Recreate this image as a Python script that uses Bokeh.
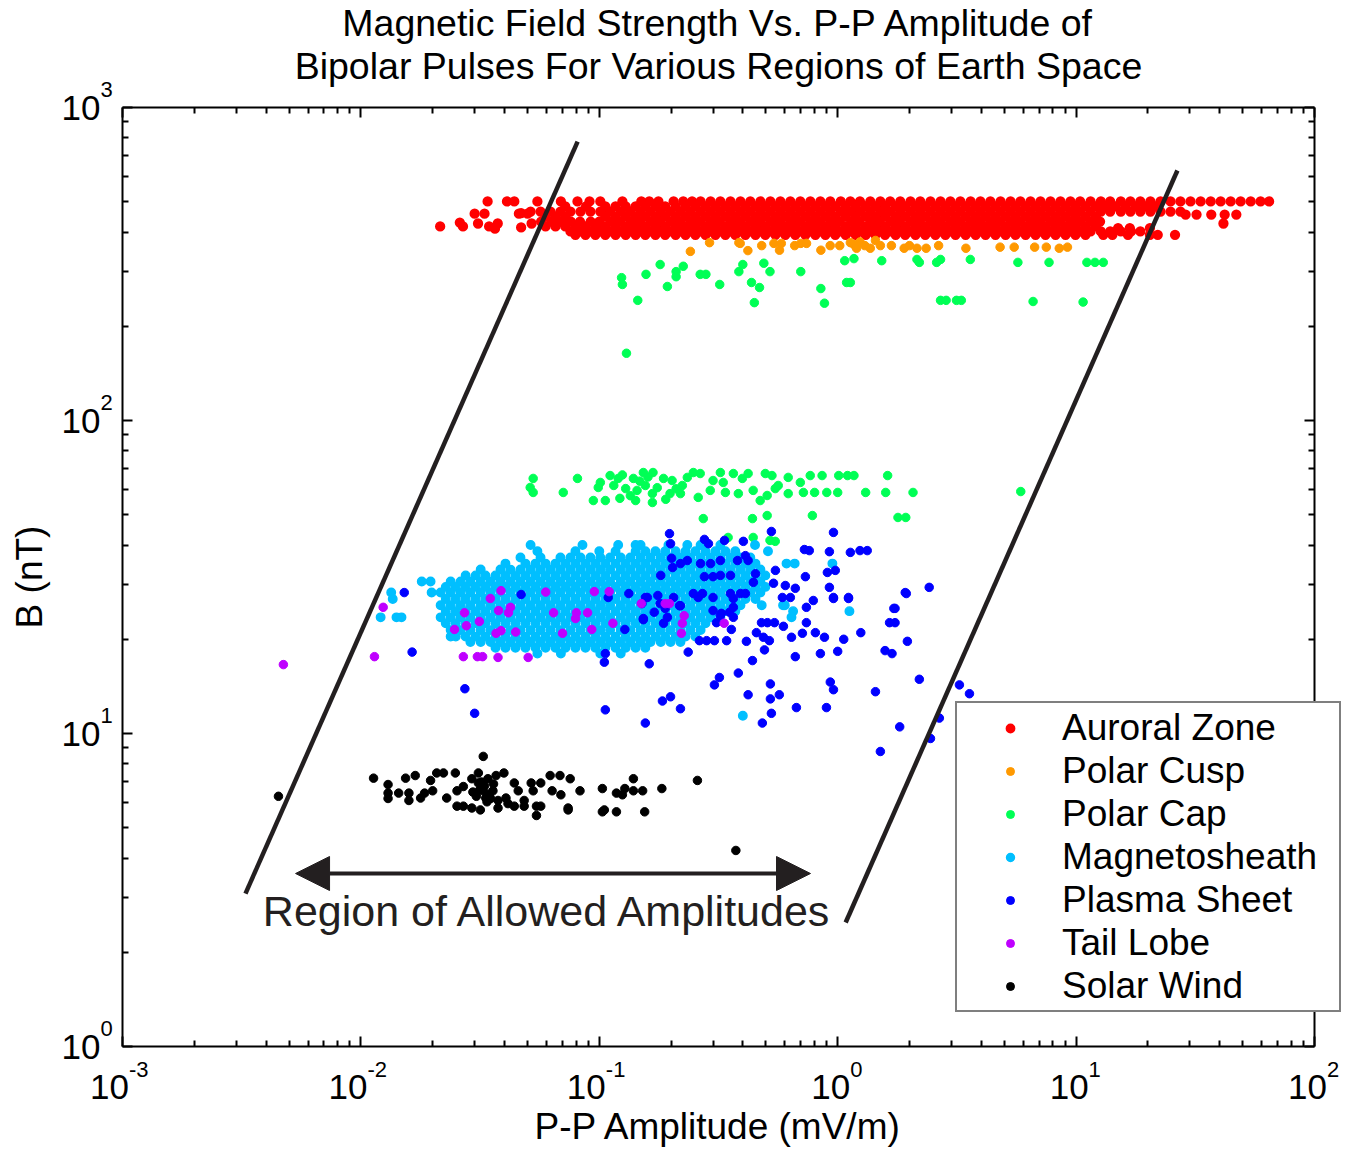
import math
from bokeh.plotting import figure
from bokeh.models import (Legend, LegendItem, Label, Arrow, NormalHead,
                          FixedTicker, LogAxis, CustomJSTickFormatter)
from bokeh.embed import file_html
from bokeh.resources import INLINE

FONT = "Liberation Sans"
INK = "#231f20"

TITLE_LINES = ["Magnetic Field Strength Vs. P-P Amplitude of",
               "Bipolar Pulses For Various Regions of Earth Space"]
X_LABEL = "P-P Amplitude (mV/m)"
Y_LABEL = "B (nT)"
X_EXPONENTS = [-3, -2, -1, 0, 1, 2]
Y_EXPONENTS = [0, 1, 2, 3]
REGION_TEXT = "Region of Allowed Amplitudes"

SERIES_NAMES = ["Auroral Zone", "Polar Cusp", "Polar Cap", "Magnetosheath",
                "Plasma Sheet", "Tail Lobe", "Solar Wind"]
SERIES_COLORS = ["#ff0000", "#ff9900", "#00ff55", "#00bfff",
                 "#0000ff", "#bf00ff", "#000000"]
# outline width of the dots; the saturated clusters are drawn with a slightly wider edge
SERIES_EDGE = [1.8, 1.0, 1.0, 1.4, 1.0, 1.0, 1.0]

# ---------------- Auroral Zone (dense band, read row by row) ----------------
az_row_b = [501, 483, 465, 448, 432, 417, 402, 392]
az_row_x = [
    [0.034, 0.041, 0.044, 0.055, 0.069, 0.081, 0.091, 0.101, 0.125, 0.150, 0.162, 0.177, 0.205, 0.225, 0.245,
     0.266, 0.293, 0.322, 0.355, 0.391, 0.43, 0.474, 0.522, 0.575, 0.633, 0.697, 0.768, 0.846, 0.931, 1.03,
     1.13, 1.24, 1.37, 1.51, 1.66, 1.83, 2.02, 2.22, 2.45, 2.7, 2.97, 3.27, 3.61, 3.97, 4.37, 4.82, 5.31,
     5.84, 6.44, 7.09, 7.81, 8.6, 9.47, 10.4, 11.5, 12.7, 13.9, 15.4, 16.9, 18.6, 20.5, 22.6, 24.9, 27.4,
     30.2, 33.3, 36.7, 40.4, 44.5, 49.0, 54.0, 59.4, 64.5],
    [0.072, 0.088, 0.106, 0.117, 0.129, 0.142, 0.156, 0.172, 0.189, 0.209, 0.23, 0.253, 0.279, 0.307, 0.338,
     0.372, 0.41, 0.452, 0.497, 0.548, 0.603, 0.664, 0.732, 0.806, 0.888, 0.977, 1.08, 1.19, 1.31, 1.44,
     1.58, 1.75, 1.92, 2.12, 2.33, 2.57, 2.83, 3.12, 3.44, 3.79, 4.17, 4.59, 5.06, 5.57, 6.14, 6.76, 7.44,
     8.2, 9.03, 9.94, 10.95, 12.1, 13.3, 14.6, 16.1, 17.8, 19.6, 21.5],
    [0.0515, 0.0567, 0.0624, 0.0687, 0.0757, 0.0834, 0.0918, 0.101, 0.111, 0.123, 0.135, 0.149, 0.164, 0.181,
     0.199, 0.219, 0.241, 0.266, 0.293, 0.322, 0.355, 0.391, 0.43, 0.474, 0.522, 0.575, 0.633, 0.697, 0.768,
     0.846, 0.931, 1.03, 1.13, 1.24, 1.37, 1.51, 1.66, 1.83, 2.02, 2.22, 2.45, 2.7, 2.97, 3.27, 3.61, 3.97,
     4.37, 4.82, 5.31, 5.84, 6.44, 7.09, 7.81, 8.6, 9.47, 10.4, 11.5, 12.7, 13.9, 15.4, 16.9, 18.6, 20.5,
     22.6, 24.9, 27.4],
    [0.0595, 0.0655, 0.0721, 0.106, 0.117, 0.129, 0.142, 0.156, 0.172, 0.189, 0.209, 0.23, 0.253, 0.279,
     0.307, 0.338, 0.372, 0.41, 0.452, 0.497, 0.548, 0.603, 0.664, 0.732, 0.806, 0.888, 0.977, 1.08, 1.19,
     1.31, 1.44, 1.58, 1.75, 1.92, 2.12, 2.33, 2.57, 2.83, 3.12, 3.44, 3.79, 4.17, 4.59, 5.06, 5.57, 6.14,
     6.76, 7.44, 8.2, 9.03, 9.94, 10.95, 12.1],
    [0.057, 0.063, 0.069, 0.076, 0.083, 0.092, 0.10, 0.112, 0.122, 0.136, 0.148, 0.165, 0.18, 0.2, 0.218,
     0.242, 0.265, 0.294, 0.32, 0.356, 0.39, 0.432, 0.472, 0.524, 0.573, 0.635, 0.695, 0.77, 0.844, 0.935,
     1.02, 1.14, 1.23, 1.38, 1.5, 1.67, 1.82, 2.03, 2.21, 2.46, 2.69, 2.98, 3.26, 3.62, 3.96, 4.38, 4.8,
     5.33, 5.82, 6.46, 7.07, 7.83, 8.58, 9.5, 10.4, 11.5, 12.6],
    [0.0595, 0.0655, 0.072, 0.0795, 0.0875, 0.0965, 0.106, 0.117, 0.129, 0.142, 0.156, 0.172, 0.189, 0.209,
     0.23, 0.253, 0.279, 0.307, 0.338, 0.372, 0.41, 0.452, 0.497, 0.548, 0.603, 0.664, 0.732, 0.806, 0.888,
     0.977, 1.08, 1.19, 1.31, 1.44, 1.58, 1.75, 1.92, 2.12, 2.33, 2.57, 2.83, 3.12, 3.44, 3.79, 4.17, 4.59,
     5.06, 5.57, 6.14, 6.76, 7.44, 8.2, 9.03, 9.94, 10.95, 12.1],
    [0.0757, 0.0834, 0.0918, 0.101, 0.111, 0.123, 0.135, 0.149, 0.164, 0.181, 0.199, 0.219, 0.241, 0.266,
     0.293, 0.322, 0.355, 0.391, 0.43, 0.474, 0.522, 0.575, 0.633, 0.697, 0.768, 0.846, 0.931, 1.03, 1.13,
     1.24, 1.37, 1.51, 1.66, 1.83, 2.02, 2.22, 2.45, 2.7, 2.97, 3.27, 3.61, 3.97, 4.37, 4.82, 5.31, 5.84,
     6.44, 7.09, 7.81, 8.6, 9.47, 10.4, 11.5, 12.7, 13.9, 15.4, 17.0, 18.6],
    [0.0794, 0.0875, 0.0963, 0.106, 0.117, 0.129, 0.142, 0.156, 0.172, 0.189, 0.209, 0.23, 0.253, 0.279,
     0.307, 0.338, 0.372, 0.41, 0.452, 0.497, 0.548, 0.603, 0.664, 0.732, 0.806, 0.888, 0.977, 1.08, 1.19,
     1.31, 1.44, 1.58, 1.75, 1.92, 2.12, 2.33, 2.57, 2.83, 3.12, 3.44, 3.79, 4.17, 4.59, 5.06, 5.57, 6.14,
     6.76, 7.44, 8.2, 9.03, 9.94, 10.95, 13.0, 14.2, 16.5, 20.4, 22.0, 26.0],
]
az_tail_x = [0.0215, 0.026, 0.0268, 0.030, 0.031, 0.033, 0.0345, 0.0365, 0.0375, 0.046, 0.047, 0.047,
             0.050, 0.052, 28.8, 32.0, 36.9, 42.0, 47.0, 41.5, 15.0, 16.8, 20.4]
az_tail_b = [417, 429, 417, 458, 426, 458, 417, 410, 426, 458, 414, 460,
             458, 426, 455, 455, 455, 455, 455, 426, 412, 412, 412]

# ---------------- Polar Cusp ----------------
pcusp_x = [0.241, 0.29, 0.385, 0.39, 0.42, 0.48, 0.54, 0.57, 0.58, 0.66, 0.70, 0.74, 0.85, 0.93, 1.02,
           1.13, 1.17, 1.2, 1.24, 1.3, 1.37, 1.44, 1.51, 1.68, 1.9, 2.0, 2.15, 2.35, 2.65, 3.45, 4.8,
           5.5, 6.7, 7.5, 8.5, 9.2]
pcusp_b = [347, 370, 370, 368, 349, 362, 368, 350, 368, 362, 368, 368, 350, 362, 362,
           370, 365, 355, 372, 362, 355, 376, 362, 362, 355, 362, 355, 355, 362, 355, 358,
           358, 358, 358, 355, 358]

# ---------------- Polar Cap ----------------
pcap_x = [0.124, 0.125, 0.145, 0.157, 0.18, 0.193, 0.21, 0.21, 0.225, 0.265, 0.28, 0.32, 0.385, 0.40,
          0.435, 0.447, 0.47, 0.49, 0.52, 0.70, 0.85, 0.88, 1.07, 1.09, 1.13, 1.17, 1.53, 2.15, 2.2, 2.6,
          2.7, 3.6, 5.7, 7.7, 11.1, 12.0, 13.0, 2.7, 2.85, 3.15, 3.3, 6.6, 10.7, 0.13,
          0.0528, 0.0513, 0.0528, 0.081, 0.0706, 0.0944, 0.099, 0.101, 0.106, 0.111, 0.120, 0.122, 0.129,
          0.139, 0.142, 0.144, 0.153, 0.156, 0.167, 0.168, 0.167, 0.186, 0.198, 0.202, 0.219, 0.223, 0.234,
          0.248, 0.26, 0.265, 0.292, 0.30, 0.322, 0.331, 0.338, 0.365, 0.383, 0.398, 0.421, 0.442, 0.473,
          0.497, 0.506, 0.53, 0.547, 0.563, 0.62, 0.62, 0.697, 0.718, 0.767, 0.80, 0.86, 0.90, 1.0, 1.01,
          1.10, 1.17, 1.31, 1.59, 1.62, 2.07, 0.273, 0.439, 0.506, 0.783, 1.79, 1.93, 0.347, 0.442, 0.52,
          0.547, 5.86, 0.115, 0.135, 0.148, 0.175, 0.19, 0.16, 0.21, 0.125]
pcap_b = [286, 272, 242, 293, 315, 268, 299, 288, 311, 293, 293, 272, 299, 315,
          276, 238, 266, 318, 299, 299, 264, 237, 324, 276, 276, 329, 324, 327, 320, 320,
          327, 327, 320, 320, 320, 320, 320, 242, 242, 242, 242, 240, 239, 164,
          65.3, 61.1, 58.9, 65.3, 58.9, 55.5, 61.1, 63.4, 55.5, 66.7, 65.3, 56.4, 60.6,
          65.3, 55.5, 59.8, 68.2, 62.0, 58.4, 68.2, 54.7, 65.3, 58.4, 64.3, 58.4, 62.0, 65.8,
          68.2, 56.8, 67.7, 59.8, 64.3, 68.2, 63.4, 58.9, 67.7, 58.4, 65.3, 67.7, 59.8, 55.5,
          67.7, 57.6, 66.7, 60.6, 62.0, 65.8, 58.4, 63.4, 58.9, 66.7, 58.9, 66.7, 58.9, 58.9, 66.7,
          66.7, 66.7, 58.9, 58.9, 66.7, 58.9, 48.6, 48.6, 49.7, 49.7, 49.0, 49.0, 42.3, 42.3, 41.4,
          41.1, 59.3, 62.0, 57.5, 64.0, 61.0, 56.0, 66.0, 60.5, 67.0]

# ---------------- Magnetosheath (dense cluster, read row by row) ----------------
msh_row_b = [40.0, 38.2, 36.5, 34.9, 33.4, 32.0, 30.6, 29.4, 28.2, 26.9, 25.7, 24.6, 23.5, 22.5, 21.4,
             20.4, 19.6, 18.8, 18.0, 11.4]
msh_row_x = [
    [0.0515, 0.085, 0.12, 0.142, 0.149, 0.195, 0.234, 0.266, 0.322, 0.45],
    [0.055, 0.0794, 0.1, 0.117, 0.142, 0.156, 0.172, 0.189, 0.209, 0.23, 0.253, 0.279, 0.307, 0.338, 0.372,
     0.51],
    [0.0467, 0.0567, 0.0687, 0.0757, 0.0834, 0.0918, 0.101, 0.111, 0.123, 0.135, 0.149, 0.164, 0.181, 0.199,
     0.219, 0.241, 0.266, 0.293, 0.322, 0.355, 0.391, 0.43],
    [0.0404, 0.049, 0.054, 0.0595, 0.0655, 0.0721, 0.0794, 0.0875, 0.0963, 0.106, 0.117, 0.129, 0.142, 0.156,
     0.172, 0.189, 0.209, 0.23, 0.253, 0.279, 0.307, 0.338, 0.372, 0.41, 0.452, 0.61, 0.66, 0.95],
    [0.0318, 0.0385, 0.0424, 0.0467, 0.0515, 0.0567, 0.0624, 0.0687, 0.0757, 0.0834, 0.0918, 0.101, 0.111,
     0.123, 0.135, 0.149, 0.164, 0.181, 0.199, 0.219, 0.241, 0.266, 0.293, 0.322, 0.355, 0.391, 0.43, 0.474],
    [0.0275, 0.0303, 0.0333, 0.0367, 0.0404, 0.0445, 0.049, 0.054, 0.0595, 0.0655, 0.0721, 0.0794, 0.0875,
     0.0963, 0.106, 0.117, 0.129, 0.142, 0.156, 0.172, 0.189, 0.209, 0.23, 0.253, 0.279, 0.307, 0.338, 0.372,
     0.41, 0.452, 0.497],
    [0.018, 0.0196, 0.0238, 0.0262, 0.0288, 0.0318, 0.035, 0.0385, 0.0424, 0.0467, 0.0515, 0.0567, 0.0624,
     0.0687, 0.0757, 0.0834, 0.0918, 0.101, 0.111, 0.123, 0.135, 0.149, 0.164, 0.181, 0.199, 0.219, 0.241,
     0.266, 0.293, 0.322, 0.355, 0.391, 0.43, 0.474],
    [0.0227, 0.025, 0.0275, 0.0303, 0.0333, 0.0367, 0.0404, 0.0445, 0.049, 0.054, 0.0595, 0.0655, 0.0721,
     0.0794, 0.0875, 0.0963, 0.106, 0.117, 0.129, 0.142, 0.156, 0.172, 0.189, 0.209, 0.23, 0.253, 0.279,
     0.307, 0.338, 0.372, 0.41, 0.452, 0.497],
    [0.0134, 0.0198, 0.0216, 0.0238, 0.0262, 0.0288, 0.0318, 0.035, 0.0385, 0.0424, 0.0467, 0.0515, 0.0567,
     0.0624, 0.0687, 0.0757, 0.0834, 0.0918, 0.101, 0.111, 0.123, 0.135, 0.149, 0.164, 0.181, 0.199, 0.219,
     0.241, 0.266, 0.293, 0.322, 0.355, 0.391, 0.43, 0.474],
    [0.0136, 0.0227, 0.025, 0.0275, 0.0303, 0.0333, 0.0367, 0.0404, 0.0445, 0.049, 0.054, 0.0595, 0.0655,
     0.0721, 0.0794, 0.0875, 0.0963, 0.106, 0.117, 0.129, 0.142, 0.156, 0.172, 0.189, 0.209, 0.23, 0.253,
     0.279, 0.307, 0.338, 0.372, 0.41, 0.452],
    [0.0216, 0.0238, 0.0262, 0.0288, 0.0318, 0.035, 0.0385, 0.0424, 0.0467, 0.0515, 0.0567, 0.0624, 0.0687,
     0.0757, 0.0834, 0.0918, 0.101, 0.111, 0.123, 0.135, 0.149, 0.164, 0.181, 0.199, 0.219, 0.241, 0.266,
     0.293, 0.322, 0.355, 0.391, 0.48, 0.59, 0.60],
    [0.0227, 0.025, 0.0275, 0.0303, 0.0333, 0.0367, 0.0404, 0.0445, 0.049, 0.054, 0.0595, 0.0655, 0.0721,
     0.0794, 0.0875, 0.0963, 0.106, 0.117, 0.129, 0.142, 0.156, 0.172, 0.189, 0.209, 0.23, 0.253, 0.279,
     0.307, 0.338, 0.372, 0.65, 1.12],
    [0.0121, 0.0141, 0.0148, 0.0216, 0.0238, 0.0262, 0.0288, 0.0318, 0.035, 0.0385, 0.0424, 0.0467, 0.0515,
     0.0567, 0.0624, 0.0687, 0.0757, 0.0834, 0.0918, 0.101, 0.111, 0.123, 0.135, 0.149, 0.164, 0.181, 0.199,
     0.219, 0.241, 0.266, 0.293, 0.322, 0.64],
    [0.0227, 0.025, 0.0275, 0.0303, 0.0333, 0.0367, 0.0404, 0.0445, 0.049, 0.054, 0.0595, 0.0655, 0.0721,
     0.0794, 0.0875, 0.0963, 0.106, 0.117, 0.129, 0.142, 0.156, 0.172, 0.189, 0.209, 0.23, 0.253, 0.279],
    [0.0238, 0.0262, 0.0288, 0.0318, 0.035, 0.0385, 0.0424, 0.0467, 0.0515, 0.0567, 0.0624, 0.0687, 0.0757,
     0.0834, 0.0918, 0.101, 0.111, 0.123, 0.135, 0.149, 0.164, 0.181, 0.199, 0.219, 0.241, 0.266],
    [0.0238, 0.025, 0.0275, 0.0303, 0.0333, 0.0367, 0.0404, 0.0445, 0.049, 0.054, 0.0595, 0.0655, 0.0721,
     0.0794, 0.0875, 0.0963, 0.106, 0.117, 0.129, 0.142, 0.156, 0.172, 0.189, 0.209, 0.23, 0.253],
    [0.0288, 0.0318, 0.035, 0.0385, 0.0424, 0.0467, 0.0515, 0.0567, 0.0624, 0.0687, 0.0757, 0.0834, 0.0918,
     0.101, 0.111, 0.123, 0.135, 0.149, 0.164, 0.181, 0.199, 0.219],
    [0.0367, 0.0404, 0.0445, 0.049, 0.054, 0.0595, 0.0655, 0.0721, 0.0794, 0.0875, 0.0963, 0.106, 0.117,
     0.129, 0.142, 0.156],
    [0.055, 0.069, 0.101, 0.123],
    [0.40],
]

# ---------------- Plasma Sheet ----------------
psh_x = [0.197, 0.199, 0.276, 0.287, 0.335, 0.402, 0.527, 0.96, 0.725, 0.76, 0.923, 1.13, 1.24, 1.33,
         2.42, 1.92, 1.72, 0.905, 0.977, 0.732, 0.923, 0.96, 1.11, 0.79, 0.739, 0.586, 0.633, 0.664,
         0.603, 0.548, 0.538, 0.443, 0.452, 0.421, 0.41, 0.38, 0.391, 0.41, 0.355, 0.365, 0.365, 0.322,
         0.322, 0.293, 0.266, 0.276, 0.30, 0.355, 0.271, 0.30, 0.30, 0.322, 0.352, 0.365, 0.248, 0.26,
         0.234, 0.219, 0.201, 0.203, 0.181, 0.159, 0.176, 0.180, 0.205, 0.219, 0.193, 0.170, 0.153,
         0.151, 0.133, 0.109, 0.047, 0.0152, 0.0164, 0.0273, 0.0300, 0.106, 0.105, 0.106, 0.128, 0.156,
         0.162, 0.153, 0.156, 0.189, 0.186, 0.199, 0.184, 0.219, 0.217, 0.236, 0.263, 0.282, 0.304,
         0.304, 0.319, 0.31, 0.325, 0.342, 0.358, 0.383, 0.414, 0.421, 0.439, 0.456, 0.488, 0.517,
         0.493, 0.483, 0.527, 0.522, 0.522, 0.569, 0.479, 0.507, 0.543, 0.592, 0.64, 0.664, 0.671,
         0.711, 0.739, 0.806, 0.846, 0.88, 0.897, 0.931, 0.96, 1.0, 1.06, 1.25, 1.44, 1.58, 1.69, 1.65,
         1.74, 1.74, 1.96, 2.2, 1.82, 1.51, 2.45, 2.67, 3.24, 3.57, 1.94, 0.96, 1.11]
psh_b = [43.5, 40.4, 41.7, 40.4, 41.4, 41.1, 44.2, 43.9, 38.7, 38.4, 38.1, 37.9, 38.4, 38.4,
         29.3, 28.2, 25.1, 32.7, 33.2, 31.7, 29.3, 27.2, 27.2, 26.6, 25.3, 27.2, 27.2, 29.1,
         29.7, 33.2, 30.2, 30.4, 32.4, 35.7, 37.0, 35.7, 28.0, 28.0, 28.0, 27.0, 25.3, 32.0,
         35.7, 34.9, 34.9, 31.7, 31.7, 32.0, 28.0, 27.2, 24.7, 23.8, 24.4, 23.5, 28.0, 27.2,
         35.7, 34.9, 36.3, 33.9, 32.0, 27.2, 27.6, 26.0, 27.2, 25.6, 23.5, 24.4, 23.3,
         26.0, 28.0, 27.2, 27.8, 28.2, 18.2, 13.9, 11.6, 18.0, 16.9, 11.9, 21.5, 10.8,
         16.7, 23.1, 27.2, 25.1, 22.5, 13.1, 12.7, 12.0, 25.6, 18.2, 19.8, 19.8, 19.8,
         14.3, 15.1, 22.6, 24.2, 19.8, 21.5, 15.6, 19.7, 13.3, 17.1, 21.0, 20.3, 19.8,
         18.5, 10.8, 11.6, 12.9, 14.4, 13.3, 22.6, 22.6, 22.6, 22.0, 20.3, 17.6, 12.1,
         20.9, 22.6, 21.0, 18.0, 20.3, 12.1, 14.6, 13.8, 18.3, 20.0, 21.0, 13.6, 18.4, 18.0, 22.6,
         22.6, 25.1, 19.7, 14.9, 10.5, 8.76, 9.64, 11.2, 14.3, 13.4, 28.0, 27.0, 27.0]

# ---------------- Tail Lobe ----------------
tlobe_x = [0.00473, 0.0114, 0.0124, 0.0247, 0.0269, 0.0272, 0.0277, 0.0308, 0.0324, 0.0314, 0.0349,
           0.0376, 0.0369, 0.0387, 0.0378, 0.0387, 0.0416, 0.0424, 0.0446, 0.0503, 0.0596, 0.0643,
           0.0701, 0.0802, 0.0795, 0.0893, 0.093, 0.0953, 0.110, 0.114, 0.150, 0.189, 0.197, 0.227,
           0.223, 0.221, 0.334]
tlobe_b = [16.6, 17.6, 25.3, 21.5, 17.6, 24.3, 22.1, 17.6, 17.6, 22.8, 27.0,
           17.5, 20.9, 21.3, 24.7, 28.6, 24.3, 25.3, 21.1, 17.5, 28.3, 24.3,
           20.9, 24.3, 23.3, 24.3, 21.5, 28.4, 28.4, 22.5, 26.0, 26.0, 26.0, 23.8,
           22.5, 20.9, 22.5]

# ---------------- Solar Wind ----------------
swind_x = [0.00451, 0.0113, 0.013, 0.013, 0.013, 0.0144, 0.0154, 0.0159, 0.0159, 0.0169, 0.0178, 0.0185,
           0.0196, 0.020, 0.0208, 0.0222, 0.0229, 0.0249, 0.0253, 0.0253, 0.0269, 0.0269, 0.0292, 0.0292,
           0.0311, 0.0317, 0.0326, 0.0311, 0.0326, 0.0334, 0.0341, 0.0358, 0.0369, 0.0376, 0.0376, 0.0398,
           0.0406, 0.0414, 0.044, 0.044, 0.0457, 0.0484, 0.0484, 0.0518, 0.0528, 0.0545, 0.0545, 0.0568,
           0.0568, 0.0622, 0.0634, 0.0684, 0.069, 0.074, 0.074, 0.0755, 0.083, 0.103, 0.103, 0.105, 0.118,
           0.118, 0.125, 0.128, 0.139, 0.139, 0.152, 0.155, 0.183, 0.258, 0.374,
           0.0315, 0.033, 0.0345, 0.0305, 0.036, 0.035, 0.032, 0.0338, 0.0295]
swind_b = [6.3, 7.2, 6.87, 6.45, 6.2, 6.45, 7.2, 6.45, 6.11, 7.34, 6.22, 6.45,
           7.08, 6.56, 7.48, 7.48, 6.22, 7.48, 6.56, 5.86, 5.86, 6.77, 7.17, 5.78,
           7.48, 5.7, 8.45, 6.95, 6.56, 6.22, 7.17, 6.56, 7.34, 6.11, 5.78, 7.48,
           6.22, 5.97, 6.95, 5.86, 6.56, 6.11, 5.86, 6.95, 6.56, 5.86, 5.47, 5.86,
           6.95, 7.34, 6.56, 7.34, 6.37, 5.7, 5.78, 7.17, 6.56, 6.67, 5.62, 5.70, 6.45,
           5.62, 6.37, 6.67, 7.17, 6.56, 6.56, 5.62, 6.67, 7.08, 4.23,
           6.6, 6.8, 6.4, 6.3, 6.9, 6.2, 7.0, 6.05, 6.5]

# ---------------- guide lines / annotation ----------------
bound_left_x = [0.00328, 0.0811]
bound_left_b = [3.08, 778]
bound_right_x = [1.08, 26.6]
bound_right_b = [2.49, 629]
arrow_x = [0.00532, 0.769]
arrow_b = 3.57
region_x = 0.0612
region_b = 2.70


def expand(row_b, row_x):
    xs, ys = [], []
    for b, xl in zip(row_b, row_x):
        xs += xl
        ys += [b] * len(xl)
    return xs, ys


az_x, az_b = expand(az_row_b, az_row_x)
az_x += az_tail_x
az_b += az_tail_b
msh_x, msh_b = expand(msh_row_b, msh_row_x)

series_x = [az_x, pcusp_x, pcap_x, msh_x, psh_x, tlobe_x, swind_x]
series_b = [az_b, pcusp_b, pcap_b, msh_b, psh_b, tlobe_b, swind_b]

# ---------------- layout: frame = whole canvas, plot box drawn by fixed axes ----------------
W, H = 1354, 1149
BOX_L, BOX_R, BOX_T, BOX_B = 122, 1314, 107, 1046
X_LO, X_HI = 1e-3, 1e2
Y_LO, Y_HI = 1.0, 1e3
dec_x = (BOX_R - BOX_L) / math.log10(X_HI / X_LO)
dec_y = (BOX_B - BOX_T) / math.log10(Y_HI / Y_LO)
xr = (X_LO * 10 ** (-BOX_L / dec_x), X_HI * 10 ** ((W - BOX_R) / dec_x))
yr = (Y_LO * 10 ** (-(H - BOX_B) / dec_y), Y_HI * 10 ** (BOX_T / dec_y))

p = figure(width=W, height=H, x_axis_type="log", y_axis_type="log",
           x_range=xr, y_range=yr, x_axis_location=None, y_axis_location=None,
           output_backend="svg", toolbar_location=None, min_border=0)
p.grid.visible = False
p.outline_line_color = None
p.background_fill_color = "white"
p.border_fill_color = "white"

x_major = [10.0 ** k for k in X_EXPONENTS]
y_major = [10.0 ** k for k in Y_EXPONENTS]
x_minor = [m * 10.0 ** k for k in X_EXPONENTS[:-1] for m in range(2, 10)]
y_minor = [m * 10.0 ** k for k in Y_EXPONENTS[:-1] for m in range(2, 10)]


def make_axis(major, minor, bounds, loc):
    ax = LogAxis(ticker=FixedTicker(ticks=major, minor_ticks=minor),
                 formatter=CustomJSTickFormatter(code="return ''"),
                 bounds=bounds, fixed_location=loc,
                 major_tick_in=10, major_tick_out=0, minor_tick_in=6, minor_tick_out=0,
                 axis_line_width=2, major_tick_line_width=2, minor_tick_line_width=2,
                 axis_line_color="black", major_tick_line_color="black",
                 minor_tick_line_color="black")
    return ax


p.add_layout(make_axis(x_major, x_minor, (X_LO, X_HI), Y_LO), "below")
p.add_layout(make_axis(x_major, x_minor, (X_LO, X_HI), Y_HI), "above")
p.add_layout(make_axis(y_major, y_minor, (Y_LO, Y_HI), X_LO), "left")
p.add_layout(make_axis(y_major, y_minor, (Y_LO, Y_HI), X_HI), "right")

renderers = []
for xs, ys, col, edge in zip(series_x, series_b, SERIES_COLORS, SERIES_EDGE):
    r = p.scatter(xs, ys, size=8.5, marker="circle", fill_color=col, line_color=col, line_width=edge)
    renderers.append(r)

p.line(bound_left_x, bound_left_b, line_width=4.5, line_color=INK)
p.line(bound_right_x, bound_right_b, line_width=4.5, line_color=INK)

p.add_layout(Arrow(start=NormalHead(size=34, fill_color=INK, line_color=INK),
                   end=NormalHead(size=34, fill_color=INK, line_color=INK),
                   x_start=arrow_x[0], y_start=arrow_b, x_end=arrow_x[1], y_end=arrow_b,
                   line_width=4, line_color=INK))
p.add_layout(Label(x=region_x, y=region_b, text=REGION_TEXT, text_align="center",
                   text_baseline="middle", text_font=FONT, text_font_size="43px", text_color=INK))


def text_label(**kw):
    kw.setdefault("text_font", FONT)
    kw.setdefault("text_color", "black")
    kw.setdefault("text_baseline", "middle")
    return Label(**kw)


# tick labels "10" with raised exponent
for k, v in zip(X_EXPONENTS, x_major):
    off = 6.5 if k < 0 else 12.5
    p.add_layout(text_label(x=v, y=Y_LO, text="10", text_align="right",
                            x_offset=off, y_offset=-40, text_font_size="35px"))
    p.add_layout(text_label(x=v, y=Y_LO, text=str(k), text_align="left",
                            x_offset=off, y_offset=-23, text_font_size="22px"))
for k, v in zip(Y_EXPONENTS, y_major):
    p.add_layout(text_label(x=X_LO, y=v, text="10", text_align="right",
                            x_offset=-22, y_offset=0, text_font_size="35px"))
    p.add_layout(text_label(x=X_LO, y=v, text=str(k), text_align="left",
                            x_offset=-22, y_offset=18, text_font_size="22px"))

xc = math.sqrt(X_LO * X_HI)
yc = math.sqrt(Y_LO * Y_HI)
p.add_layout(text_label(x=xc, y=Y_LO, text=X_LABEL, text_align="center",
                        y_offset=-80, text_font_size="37px"))
p.add_layout(text_label(x=X_LO, y=yc, text=Y_LABEL, text_align="center",
                        x_offset=-93, angle=math.pi / 2, text_font_size="37px"))
p.add_layout(text_label(x=xc, y=Y_HI, text=TITLE_LINES[0], text_align="center",
                        y_offset=85, text_font_size="37.5px"))
p.add_layout(text_label(x=xc, y=Y_HI, text=TITLE_LINES[1], text_align="center",
                        y_offset=42, text_font_size="37.5px"))

legend = Legend(items=[LegendItem(label=n, renderers=[r]) for n, r in zip(SERIES_NAMES, renderers)],
                location=(955, H - 1012), orientation="vertical",
                label_text_font=FONT, label_text_font_size="37px", label_text_color="black",
                label_height=43, glyph_height=20, glyph_width=100, label_standoff=2, label_width=274,
                padding=3, spacing=0, margin=0,
                border_line_color="black", border_line_width=2,
                background_fill_color="white", background_fill_alpha=1.0)
p.add_layout(legend)

open("out.html", "w").write(file_html(p, INLINE))
